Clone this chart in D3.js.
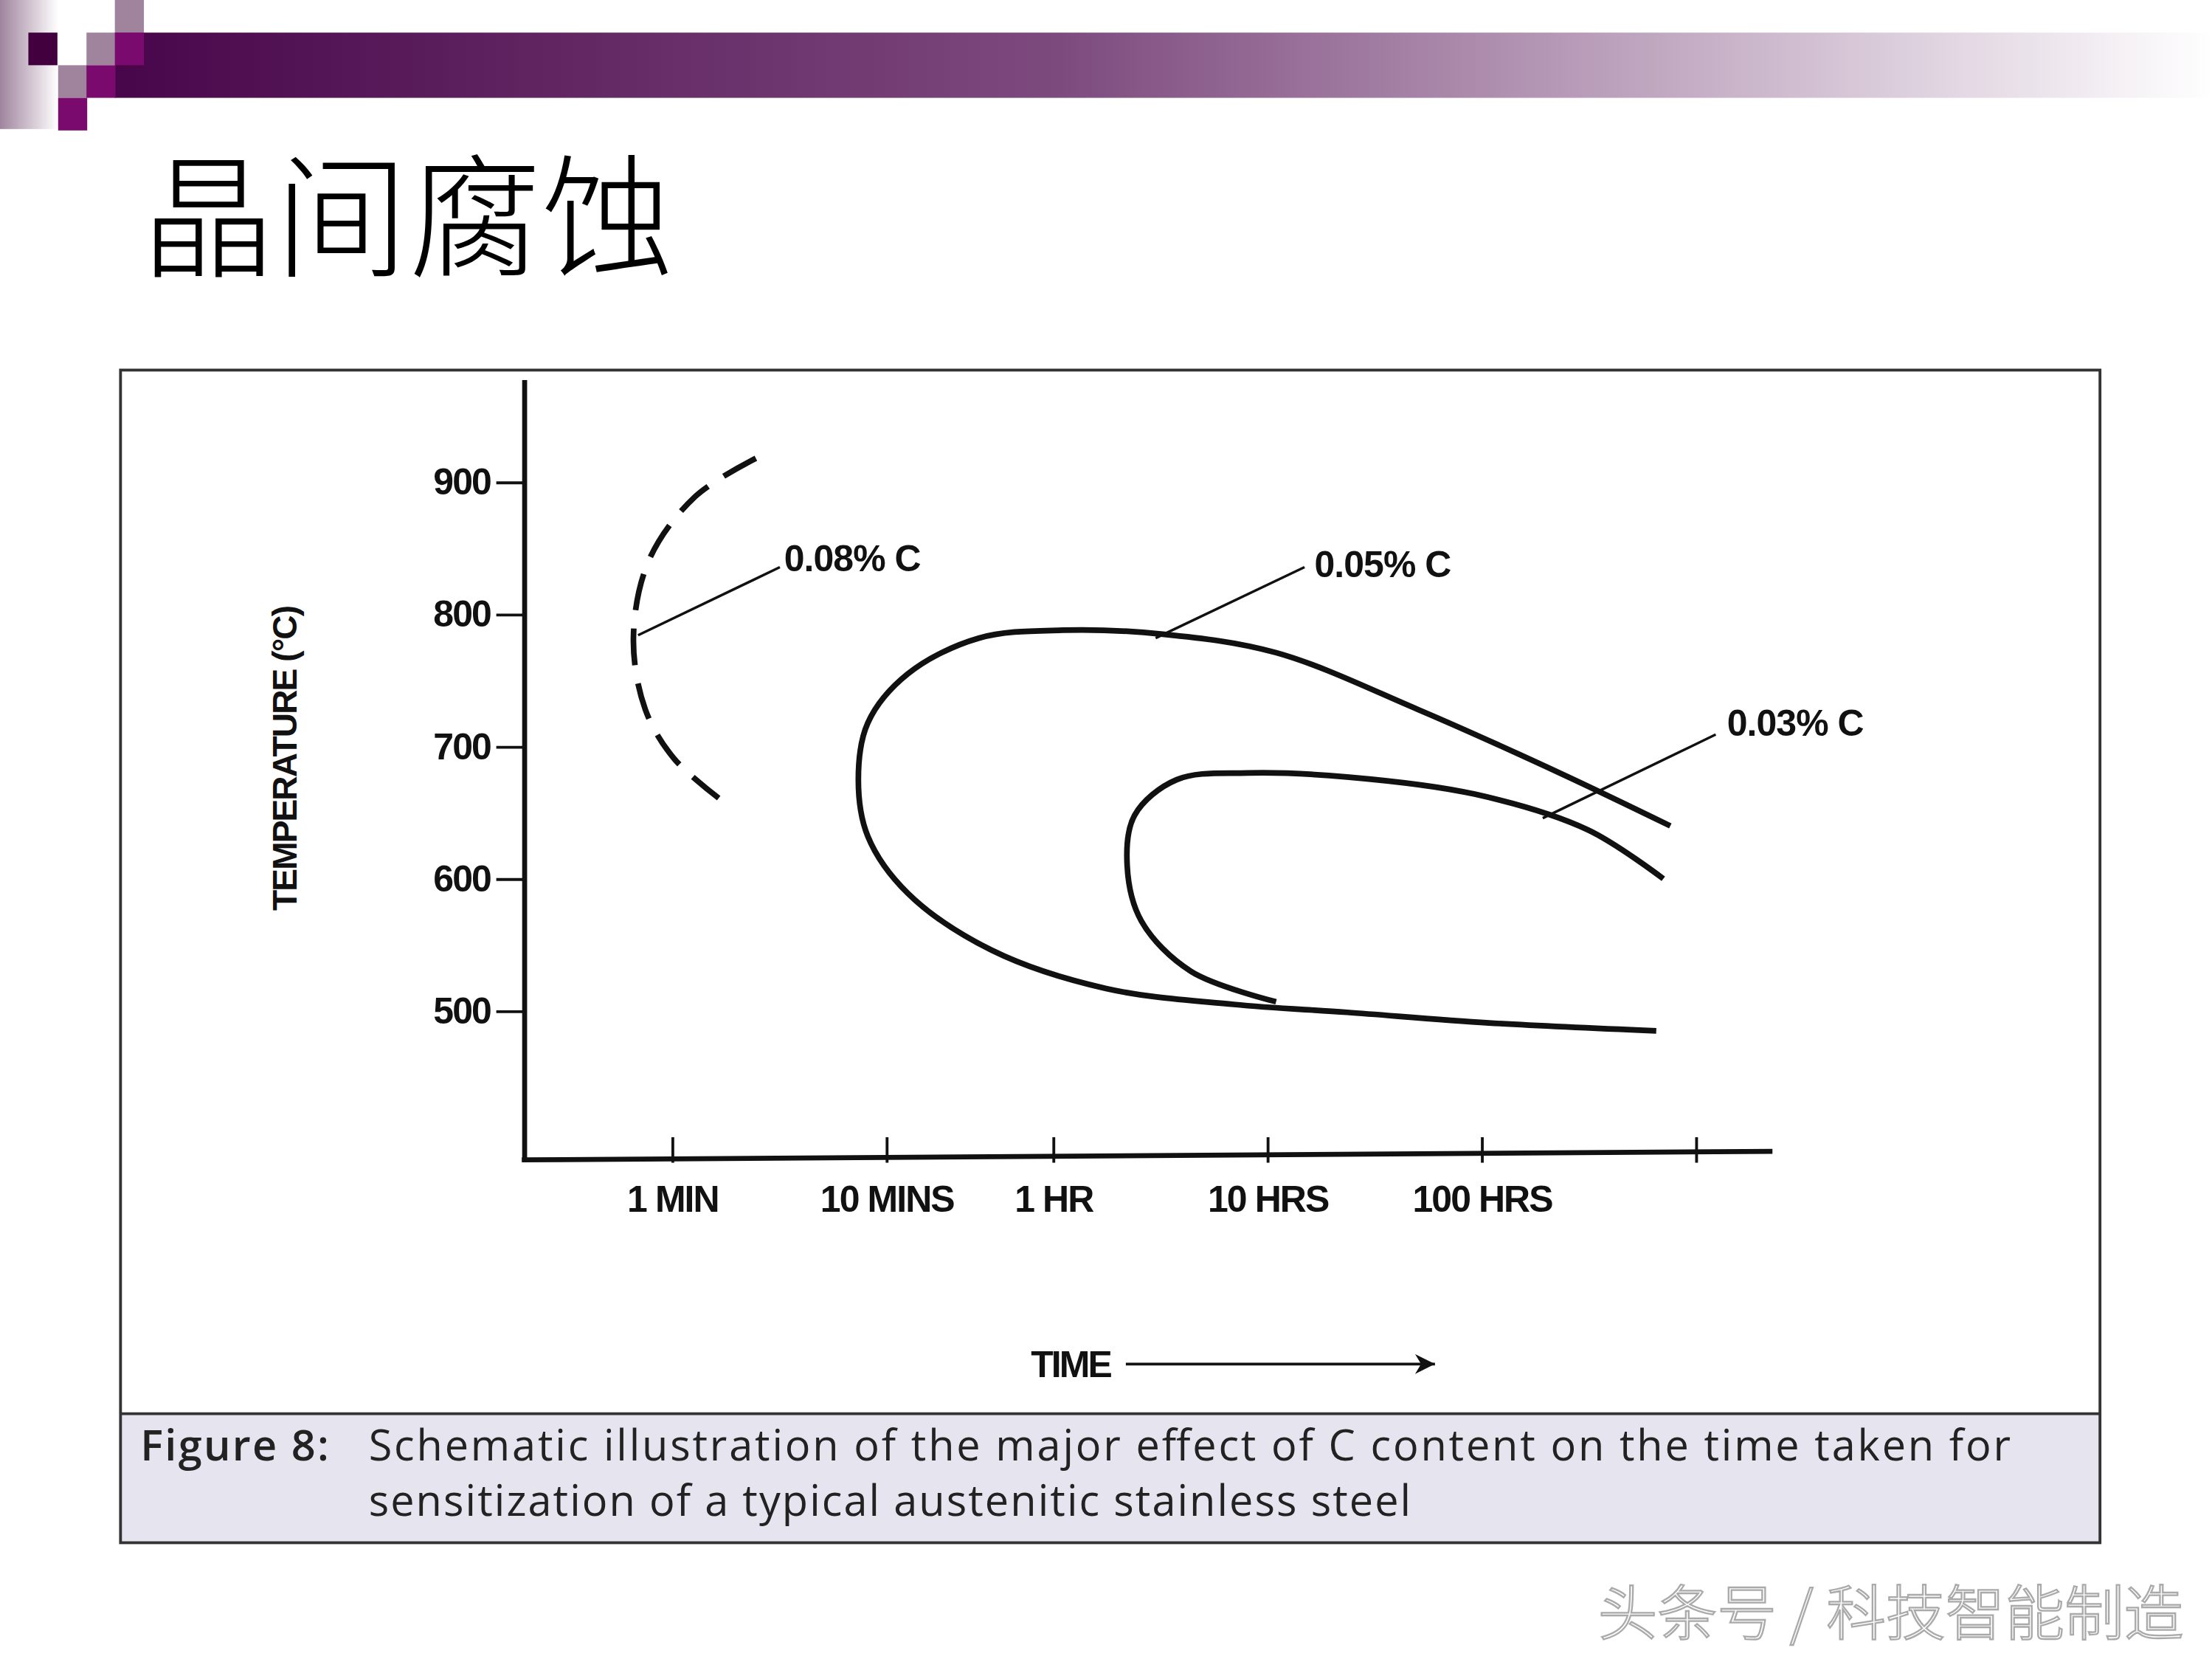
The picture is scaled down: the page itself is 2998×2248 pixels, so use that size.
<!DOCTYPE html>
<html><head><meta charset="utf-8">
<script src="https://cdn.jsdelivr.net/npm/d3@7"></script>
<style>body{margin:0;background:#fff}svg{display:block}</style>
</head><body>
<script>
// curve data: time in minutes, temperature in °C
var c08Time = [2.46, 1.28, 0.78, 0.66, 0.75, 1.02, 1.65];
var c08Temp = [918, 889, 841, 782, 728, 691, 661];
var c05Time = [45600, 13900, 3030, 659, 195, 67, 27, 12.6, 8.2, 7.4, 8.2, 12.6, 31, 106, 418, 1413, 6490, 39200];
var c05Temp = [640, 680, 728, 771, 785, 788, 782, 755, 718, 675, 632, 589, 546, 517, 505, 499, 491, 485];
var c03Time = [42300, 18800, 5570, 1413, 486, 227, 144, 133, 155, 264, 659];
var c03Temp = [600, 637, 664, 677, 680, 675, 648, 610, 568, 530, 507];
var yTicks = [500, 600, 700, 800, 900];
var xTicks = [1, 10, 60, 600, 6000, 60000];
var xLabels = ["1 MIN", "10 MINS", "1 HR", "10 HRS", "100 HRS", ""];

var svg = d3.select("body").append("svg")
    .attr("width", 2998).attr("height", 2248)
    .attr("viewBox", "0 0 1560 1170").attr("preserveAspectRatio", "none");

var defs = svg.append("defs");
var g1 = defs.append("linearGradient").attr("id", "bar");
g1.append("stop").attr("offset", "0").attr("stop-color", "#48064a");
g1.append("stop").attr("offset", "0.45").attr("stop-color", "#7d4a7e");
g1.append("stop").attr("offset", "1").attr("stop-color", "#ffffff");
var g2 = defs.append("linearGradient").attr("id", "strip");
g2.append("stop").attr("offset", "0").attr("stop-color", "#a0849e");
g2.append("stop").attr("offset", "1").attr("stop-color", "#ffffff");
defs.append("marker").attr("id", "arr").attr("viewBox", "0 0 10 10")
    .attr("refX", 10).attr("refY", 5).attr("markerWidth", 28).attr("markerHeight", 14)
    .attr("orient", "auto").attr("markerUnits", "userSpaceOnUse")
    .append("path").attr("d", "M0,0L10,5L0,10L3,5Z").attr("fill", "#111");

// header decoration
svg.append("rect").attr("x", 0).attr("y", 0).attr("width", 41).attr("height", 91).attr("fill", "url(#strip)");
svg.append("rect").attr("x", 81).attr("y", 23).attr("width", 1479).attr("height", 46).attr("fill", "url(#bar)");
var sq = [[20,23,"#42003f"],[61,23,"#a0849e"],[81,0,"#a0849e"],[41,46,"#a0849e"],[81,23,"#7a0a6e"],[61,46,"#7a0a6e"],[41,69,"#7a0a6e"]];
svg.selectAll("rect.sq").data(sq).enter().append("rect").attr("class", "sq")
    .attr("x", d => d[0]).attr("y", d => d[1]).attr("width", 20.5).attr("height", 23).attr("fill", d => d[2]);

svg.append("text").attr("x", 100).attr("y", 188).attr("font-family", "Noto Sans CJK SC").attr("font-weight", 300)
    .attr("font-size", 94).attr("fill", "#000").text("晶间腐蚀");

// frame and caption
svg.append("rect").attr("x", 85).attr("y", 997).attr("width", 1396).attr("height", 91).attr("fill", "#e6e4ef");
svg.append("rect").attr("x", 85).attr("y", 261).attr("width", 1396).attr("height", 827)
    .attr("fill", "none").attr("stroke", "#333").attr("stroke-width", 2);
svg.append("line").attr("x1", 85).attr("x2", 1481).attr("y1", 997).attr("y2", 997).attr("stroke", "#333").attr("stroke-width", 2);
var cap = svg.append("g").attr("font-family", "Open Sans, sans-serif").attr("font-size", 30).attr("fill", "#222");
cap.append("text").attr("x", 99).attr("y", 1030).attr("font-weight", 600).attr("textLength", 133).text("Figure 8:");
cap.append("text").attr("x", 260).attr("y", 1030).attr("textLength", 1158).text("Schematic illustration of the major effect of C content on the time taken for");
cap.append("text").attr("x", 260).attr("y", 1069).attr("textLength", 735).text("sensitization of a typical austenitic stainless steel");

// scales
var x = d3.scaleLog().domain([1, 60000]).range([474, 1196]);
var y = d3.scaleLinear().domain([500, 900]).range([713, 340]);

var bold = "Liberation Sans, Arial, sans-serif";
var yAxis = svg.append("g").attr("transform", "translate(370,0)")
    .call(d3.axisLeft(y).tickValues(yTicks).tickSize(20).tickPadding(4));
yAxis.select(".domain").remove();
yAxis.selectAll("line").attr("stroke", "#111").attr("stroke-width", 2);
yAxis.selectAll("text").attr("font-family", bold).attr("font-weight", "bold").attr("font-size", 26)
    .attr("letter-spacing", -1).attr("fill", "#111");
svg.append("line").attr("x1", 370).attr("x2", 370).attr("y1", 268).attr("y2", 819).attr("stroke", "#111").attr("stroke-width", 3.5);

var xAxis = svg.append("g").attr("transform", "translate(0,816)")
    .call(d3.axisBottom(x).tickValues(xTicks).tickFormat((d, i) => xLabels[i]).tickSize(6).tickPadding(14));
xAxis.select(".domain").remove();
xAxis.selectAll(".tick line").attr("y1", -14).attr("y2", 4).attr("stroke", "#111").attr("stroke-width", 2);
xAxis.selectAll("text").attr("font-family", bold).attr("font-weight", "bold").attr("font-size", 26)
    .attr("letter-spacing", -1).attr("fill", "#111");
svg.append("line").attr("x1", 368).attr("x2", 1250).attr("y1", 818).attr("y2", 812).attr("stroke", "#111").attr("stroke-width", 3.5);

svg.append("text").attr("transform", "translate(209,535) rotate(-90)").attr("text-anchor", "middle")
    .attr("font-family", bold).attr("font-weight", "bold").attr("font-size", 24).attr("letter-spacing", -1)
    .attr("fill", "#111").text("TEMPERATURE (°C)");
svg.append("text").attr("x", 727).attr("y", 971).attr("font-family", bold).attr("font-weight", "bold")
    .attr("font-size", 26).attr("letter-spacing", -1.5).attr("fill", "#111").text("TIME");
svg.append("line").attr("x1", 794).attr("x2", 1012).attr("y1", 962).attr("y2", 962)
    .attr("stroke", "#111").attr("stroke-width", 2).attr("marker-end", "url(#arr)");

// curves
var line = d3.line().x(d => x(d[0])).y(d => y(d[1])).curve(d3.curveCatmullRom.alpha(0.5));
function draw(t, v, dash) {
    svg.append("path").datum(d3.zip(t, v)).attr("d", line).attr("fill", "none")
        .attr("stroke", "#111").attr("stroke-width", 4).attr("stroke-dasharray", dash);
}
draw(c08Time, c08Temp, "26,13");
draw(c05Time, c05Temp, null);
draw(c03Time, c03Temp, null);

// leader labels
var labels = [[450,448,550,400,553,394,"0.08% C"],[815,450,920,400,927,398,"0.05% C"],[1088,577,1210,518,1218,510,"0.03% C"]];
labels.forEach(function (l) {
    svg.append("line").attr("x1", l[0]).attr("y1", l[1]).attr("x2", l[2]).attr("y2", l[3]).attr("stroke", "#111").attr("stroke-width", 1.8);
    svg.append("text").attr("x", l[4]).attr("y", l[5]).attr("dy", "0.35em").attr("font-family", bold)
        .attr("font-weight", "bold").attr("font-size", 26).attr("letter-spacing", -0.5).attr("fill", "#111").text(l[6]);
});

svg.append("text").attr("x", 1540).attr("y", 1153).attr("text-anchor", "end").attr("font-family", "Noto Sans CJK SC")
    .attr("font-size", 42).attr("font-weight", 300).attr("fill", "#fff").attr("stroke", "#aaa").attr("stroke-width", 1.2).text("头条号 / 科技智能制造");
</script>
</body></html>
